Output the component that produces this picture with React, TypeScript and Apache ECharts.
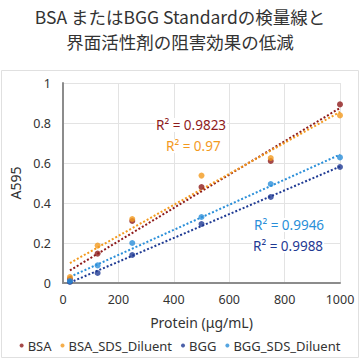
import React, { useEffect, useRef } from "react";
import * as echarts from "echarts";

const xValues = [25, 125, 250, 500, 750, 1000];
const bsa = [0.02, 0.147, 0.31, 0.48, 0.61, 0.893];
const bsaSds = [0.03, 0.187, 0.32, 0.537, 0.625, 0.838];
const bgg = [0.005, 0.05, 0.14, 0.295, 0.43, 0.58];
const bggSds = [0.01, 0.088, 0.2, 0.33, 0.495, 0.628];

const seriesNames = ["BSA", "BSA_SDS_Diluent", "BGG", "BGG_SDS_Diluent"];
const seriesColors = ["#8e1b1b", "#f39a1e", "#1f3a93", "#2a8fd9"];
const r2Labels = ["R² = 0.9823", "R² = 0.97", "R² = 0.9988", "R² = 0.9946"];
const titleLines = ["BSA またはBGG Standardの検量線と", "界面活性剤の阻害効果の低減"];

function fit(ys: number[]) {
  const n = xValues.length;
  const mx = xValues.reduce((a, b) => a + b, 0) / n;
  const my = ys.reduce((a, b) => a + b, 0) / n;
  let sxy = 0;
  let sxx = 0;
  for (let i = 0; i < n; i++) {
    sxy += (xValues[i] - mx) * (ys[i] - my);
    sxx += (xValues[i] - mx) * (xValues[i] - mx);
  }
  const b = sxy / sxx;
  const a = my - b * mx;
  return [xValues[0], xValues[n - 1]].map((x) => [x, a + b * x]);
}

export default function App() {
  const ref = useRef<HTMLDivElement>(null);
  useEffect(() => {
    if (!ref.current) return;
    const chart = echarts.init(ref.current, undefined, { renderer: "svg" });
    const all = [bsa, bsaSds, bgg, bggSds];
    const font = "'Noto Sans', sans-serif";
    const series: any[] = [];
    all.forEach((ys, i) => {
      series.push({
        name: seriesNames[i],
        type: "scatter",
        data: ys.map((y, j) => [xValues[j], y]),
        symbolSize: 6,
        itemStyle: { color: seriesColors[i] },
        z: 3,
      });
      series.push({
        name: seriesNames[i] + "_trend",
        type: "line",
        data: fit(ys),
        symbol: "none",
        lineStyle: { color: seriesColors[i], type: [2, 2], width: 2 },
        z: 2,
      });
    });
    const r2Pos = [
      [155, 125],
      [165, 146],
      [252, 246],
      [253, 225],
    ];
    const graphics: any[] = [
      {
        type: "rect",
        shape: { x: 1.5, y: 70.5, width: 357, height: 287 },
        style: { fill: "none", stroke: "#e0e0e0", lineWidth: 1 },
        silent: true,
      },
    ];
    r2Labels.forEach((t, i) => {
      graphics.push({
        type: "text",
        x: r2Pos[i][0],
        y: r2Pos[i][1],
        z: 10,
        style: {
          text: t,
          fill: seriesColors[i],
          font: `13.5px ${font}`,
          verticalAlign: "middle",
          align: "left",
          backgroundColor: "#ffffff",
          padding: [0, 1],
        },
      });
    });
    const titleStyle = {
      fontFamily: "'Noto Sans CJK JP', sans-serif",
      fontSize: 17.5,
      fontWeight: "normal",
      color: "#333333",
      lineHeight: 20,
    };
    chart.setOption({
      animation: false,
      backgroundColor: "#ffffff",
      title: [
        { text: titleLines[0], left: "center", top: 6, padding: 0, textStyle: titleStyle },
        { text: titleLines[1], left: "center", top: 31, padding: 0, textStyle: titleStyle },
      ],
      grid: { left: 63, right: 20, top: 83, bottom: 77 },
      xAxis: {
        type: "value",
        min: 0,
        max: 1000,
        interval: 200,
        name: "Protein (μg/mL)",
        nameLocation: "middle",
        nameGap: 32,
        nameTextStyle: { fontFamily: font, fontSize: 14, color: "#333" },
        axisLine: { show: true, lineStyle: { color: "#8c8c8c", width: 2 } },
        axisTick: { show: false },
        axisLabel: {
          fontFamily: font,
          fontSize: 12.5,
          color: "#333",
          margin: 10,
          formatter: (v: number) => String(v),
        },
        splitLine: { show: true, lineStyle: { color: "#e3e3e3" } },
      },
      yAxis: {
        type: "value",
        min: 0,
        max: 1,
        interval: 0.2,
        name: "A595",
        nameLocation: "middle",
        nameGap: 38,
        nameTextStyle: { fontFamily: font, fontSize: 14, color: "#333" },
        axisLine: { show: true, lineStyle: { color: "#8c8c8c", width: 2 } },
        axisTick: { show: false },
        axisLabel: {
          fontFamily: font,
          fontSize: 12.5,
          color: "#333",
          margin: 12,
          formatter: (v: number) => (v === 0 || v === 1 ? String(v) : v.toFixed(1)),
        },
        splitLine: { show: true, lineStyle: { color: "#e3e3e3" } },
      },
      legend: {
        bottom: 3,
        left: "center",
        data: seriesNames,
        icon: "circle",
        itemWidth: 4,
        itemHeight: 4,
        itemGap: 9,
        textStyle: { fontFamily: font, fontSize: 13, color: "#333", padding: [0, 0, 0, -1] },
      },
      graphic: graphics,
      series,
    });
    return () => chart.dispose();
  }, []);
  return <div ref={ref} style={{ width: 360, height: 360, position: "absolute", left: 0, top: 0 }} />;
}
